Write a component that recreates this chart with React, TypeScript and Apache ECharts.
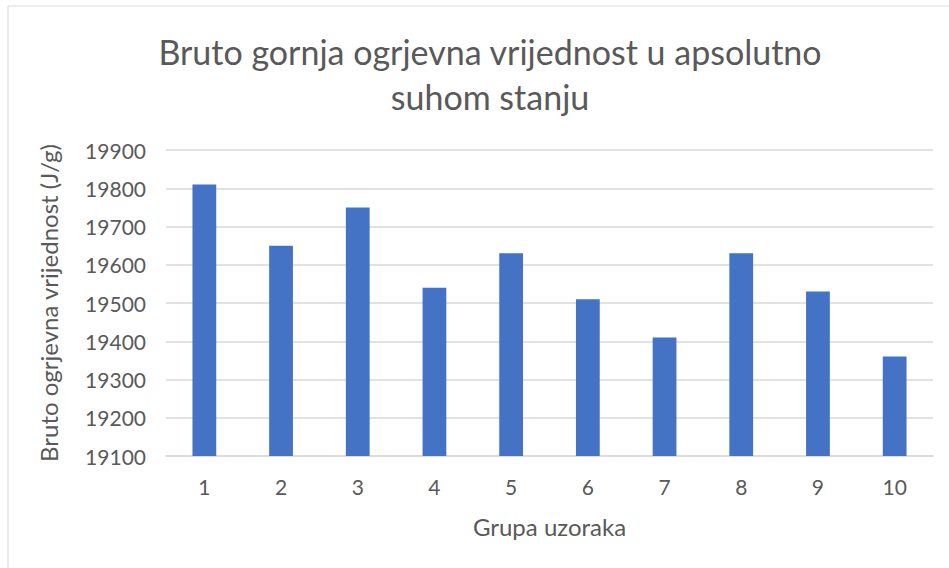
import React, { useEffect, useRef } from "react";
import * as echarts from "echarts";

const categories = ["1", "2", "3", "4", "5", "6", "7", "8", "9", "10"];
const values = [19810, 19650, 19750, 19540, 19630, 19510, 19410, 19630, 19530, 19360];
const titleText = "Bruto gornja ogrjevna vrijednost u apsolutno\nsuhom stanju";
const yName = "Bruto ogrjevna vrijednost (J/g)";
const xName = "Grupa uzoraka";

export default function App() {
  const ref = useRef<HTMLDivElement>(null);
  useEffect(() => {
    if (!ref.current) return;
    const chart = echarts.init(ref.current, null, { renderer: "svg" });
    const font = "Lato, 'Noto Sans', sans-serif";
    const textColor = "#595959";
    chart.setOption({
      animation: false,
      backgroundColor: "#ffffff",
      textStyle: { fontFamily: font },
      title: {
        text: titleText,
        left: 485,
        top: 24,
        textAlign: "center",
        textStyle: { fontFamily: font, fontSize: 34, fontWeight: "normal", color: textColor, lineHeight: 45 },
      },
      graphic: [
        {
          type: "rect",
          shape: { x: 8, y: 6, width: 1000, height: 700 },
          style: { fill: "none", stroke: "#d9d9d9", lineWidth: 1 },
          silent: true,
        },
      ],
      grid: { left: 166, right: 16, top: 150, bottom: 112, containLabel: false },
      xAxis: {
        type: "category",
        data: categories,
        name: xName,
        nameLocation: "middle",
        nameGap: 58,
        nameTextStyle: { fontFamily: font, fontSize: 24, color: textColor },
        axisLine: { show: true, lineStyle: { color: "#d9d9d9", width: 1.5 } },
        axisTick: { show: false },
        axisLabel: { fontFamily: font, fontSize: 21, color: textColor, margin: 20 },
      },
      yAxis: {
        type: "value",
        min: 19100,
        max: 19900,
        interval: 100,
        name: yName,
        nameLocation: "middle",
        nameGap: 106,
        nameTextStyle: { fontFamily: font, fontSize: 24, color: textColor },
        axisLine: { show: false },
        axisTick: { show: false },
        axisLabel: {
          fontFamily: font,
          fontSize: 21,
          color: textColor,
          margin: 20,
          formatter: (v: number) => String(v),
        },
        splitLine: { lineStyle: { color: "#d9d9d9", width: 1.5 } },
      },
      series: [
        {
          type: "bar",
          data: values,
          barWidth: "31%",
          itemStyle: { color: "#4472c4" },
        },
      ],
    });
    return () => chart.dispose();
  }, []);
  return (
    <div
      ref={ref}
      style={{ position: "absolute", left: 0, top: 0, width: 949, height: 568 }}
    />
  );
}
